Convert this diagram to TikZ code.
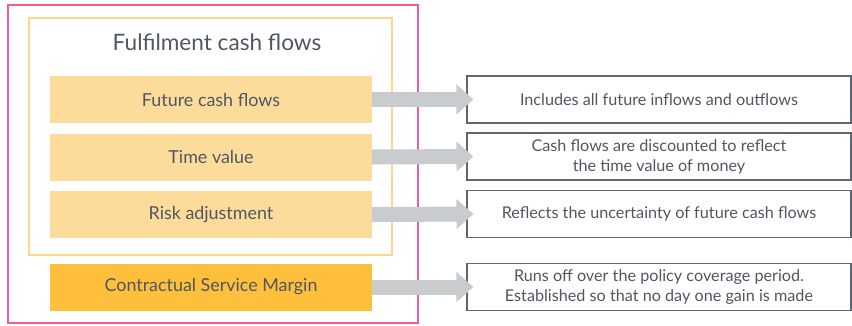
\documentclass[tikz,border=0pt]{standalone}
\usepackage{fontspec}
\setmainfont{Lato}
\usetikzlibrary{arrows.meta}
\definecolor{pinkline}{HTML}{EA5FA2}
\definecolor{goldline}{HTML}{FDD88C}
\definecolor{lightgold}{HTML}{FDDC9B}
\definecolor{deepgold}{HTML}{FDBF3C}
\definecolor{arrowgrey}{HTML}{C8CCCF}
\definecolor{boxline}{HTML}{5E6770}
\definecolor{txt}{HTML}{4F5761}
\tikzset{
  part/.style={fill=lightgold, minimum width=322pt, minimum height=47pt, inner sep=0pt,
    text=txt, font=\fontsize{17.9}{20}\selectfont},
  csmbox/.style={part, fill=deepgold},
  note/.style={draw=boxline, line width=1.1pt, minimum width=384pt, minimum height=47pt,
    inner sep=0pt, align=center, text=txt, font=\fontsize{16.2}{20}\selectfont},
  flow/.style={draw=arrowgrey, line width=15pt,
    -{Triangle[length=17pt, width=29pt]}}
}
\begin{document}
\begin{tikzpicture}[x=1pt, y=-1pt]
  \useasboundingbox (0,0) rectangle (852,325);
  % outer frame and the fulfilment group
  \draw[pinkline, line width=1.6pt] (8,5) rectangle (418,323);
  \draw[goldline, line width=1.3pt] (29,18) rectangle (392,255);
  \node[text=txt, font=\fontsize{22.6}{26}\selectfont] (title) at (217,42) {Fulfilment cash flows};
  % components
  \node[part] (fcf) at (211,99.5) {Future cash flows};
  \node[part] (tv) at (211,157) {Time value};
  \node[part] (ra) at (211,214.5) {Risk adjustment};
  \node[csmbox] (csm) at (211,287) {Contractual Service Margin};
  % explanations
  \node[note] (nfcf) at (659,99.5) {Includes all future inflows and outflows};
  \node[note] (ntv) at (659,156.5) {Cash flows are discounted to reflect\\the time value of money};
  \node[note] (nra) at (659,214) {Reflects the uncertainty of future cash flows};
  \node[note] (ncsm) at (659,287) {Runs off over the policy coverage period.\\Established so that no day one gain is made};
  % connectors
  \draw[flow] (fcf.east) -- ([xshift=7pt]nfcf.west);
  \draw[flow] (tv.east) -- ([xshift=7pt]ntv.west);
  \draw[flow] (ra.east) -- ([xshift=7pt]nra.west);
  \draw[flow] (csm.east) -- ([xshift=7pt]ncsm.west);
\end{tikzpicture}
\end{document}
